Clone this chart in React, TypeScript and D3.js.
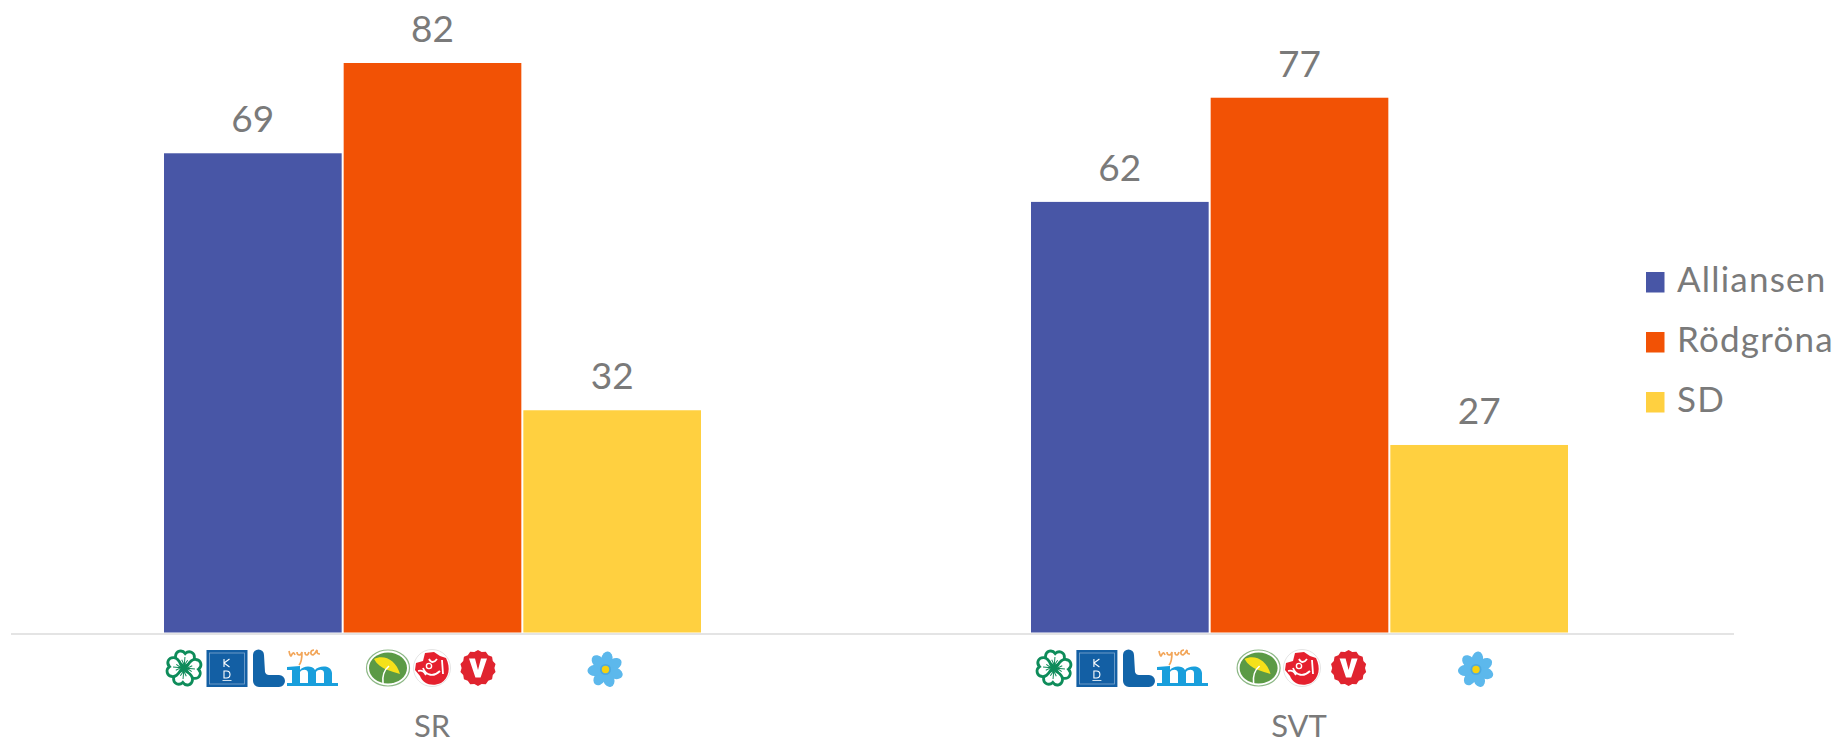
import React from "react";
import * as d3 from "d3";

const categories = ["SR", "SVT"];
const seriesNames = ["Alliansen", "Rödgröna", "SD"];
const alliansen = [69, 62];
const rodgrona = [82, 77];
const sd = [32, 27];
const seriesValues = [alliansen, rodgrona, sd];
const colors = ["#4856A6", "#F25205", "#FFD040"];

const W = 1842, H = 740;
const FONT = "Lato, 'Open Sans', sans-serif";
const TEXT = "#7A7A7A";

const x0 = d3.scaleBand<string>().domain(categories).range([0, 1734]);
const x1 = d3.scaleBand<string>().domain(seriesNames).range([-269.5, 269.5]);
const y = d3.scaleLinear().domain([0, 82]).range([632.5, 63]);

type P = { x: number; y: number };
const tf = ({ x, y }: P) => `translate(${x},${y})`;

function Clover(p: P) {
  const leaf = "M0,-1.5 C-2,-4 -9.5,-4.5 -9.5,-11 C-9.5,-16.5 -3.5,-18.5 0,-14.5 C3.5,-18.5 9.5,-16.5 9.5,-11 C9.5,-4.5 2,-4 0,-1.5 Z";
  return (
    <g transform={tf(p)} fill="#fff" stroke="#0E8C5A">
      {[0, 90, 180, 270].map((r) => (
        <g key={r} transform={`rotate(${r + 5})`}>
          <path d={leaf} strokeWidth={2.8} />
          <path d="M0,-3 L0,-11 M-3,-8 L0,-3 L3,-8" strokeWidth={1} fill="none" />
        </g>
      ))}
    </g>
  );
}
function KD(p: P) {
  return (
    <g transform={tf(p)}>
      <rect x={0} y={0} width={41} height={37} fill="#135FA4" />
      <rect x={3} y={3} width={35} height={31} fill="none" stroke="#7FA9D0" strokeWidth={0.8} />
      <path
        d="M17.5,9 V17 M23,9 L17.5,13 L23,17 M17.5,21 V28 H20 Q23.5,28 23.5,24.5 Q23.5,21 20,21 Z"
        fill="none"
        stroke="#fff"
        strokeWidth={1.1}
      />
      <rect x={16} y={30} width={9} height={0.8} fill="#fff" />
    </g>
  );
}
function LLogo(p: P) {
  return (
    <path
      transform={tf(p)}
      fill="#1264A8"
      d="M0,5 a5.5,5.5 0 0 1 11,0 L12,22 q1,3 4,3 L26,25 a6,6 0 0 1 0,12 L6,37 a6,6 0 0 1 -6,-6 Z"
    />
  );
}
function MLogo(p: P) {
  return (
    <g transform={tf(p)}>
      <path
        fill="#199FDC"
        d="M0,9 L13,8 L13,12 C16,8 25,7 28,12 C31,8 44,6 45,15 L45,25 L51,25 L51,28 L32,28 L32,25 L37,25 L37,15 C37,11 31,11 29,14 L29,25 L34,25 L34,28 L16,28 L16,25 L21,25 L21,15 C21,11 15,11 13,14 L13,25 L18,25 L18,28 L0,28 L0,25 L5,25 L5,12 L0,12 Z"
      />
      <path
        fill="none"
        stroke="#F2A65A"
        strokeWidth={1.7}
        d="M2,-7 C3,-3 3,-2 4,-2 C6,-6 7,-6 8,-3 M10,-6 C10,-2 14,-2 15,-6 C15,-1 14,5 12,7 M18,-6 C18,-2 21,-2 22,-6 M27,-8 C23,-8 23,-3 26,-3 C28,-4 29,-6 30,-8 C30,-5 30,-4 33,-4"
      />
    </g>
  );
}
function MP(p: P) {
  return (
    <g transform={tf(p)}>
      <ellipse rx={21.5} ry={18} fill="#fff" stroke="#8DB886" strokeWidth={1.2} />
      <ellipse rx={19} ry={15.5} fill="#5B9A45" />
      <path d="M-14,-9 C-4,-14 8,-8 12,6 C4,3 -8,2 -14,-9 Z" fill="#F5E11A" />
      <path d="M-5,16 C-6,8 -4,2 1,-2" fill="none" stroke="#fff" strokeWidth={1.6} />
    </g>
  );
}
function Rose(p: P) {
  return (
    <g transform={tf(p)}>
      <circle r={18.5} fill="#fff" stroke="#DDD" strokeWidth={0.8} />
      <path d="M-16,-5 L-9,-7 L-7,-15 L2,-16 L8,-12 L14,-10 C19,0 17,10 9,15 C0,19 -9,16 -12,8 L-17,2 Z" fill="#E5202E" />
      <path d="M-9,0 C-6,8 2,9 8,3 M-3,-9 C-1,-5 2,-5 5,-9 M10,-8 L11,6 M-14,3 C-10,2 -8,3 -6,7" fill="none" stroke="#fff" strokeWidth={1.8} />
      <circle cx={-3} cy={-2} r={2.6} fill="none" stroke="#fff" strokeWidth={1.4} />
    </g>
  );
}
function VLogo(p: P) {
  const pts = d3.range(0, 28).map((i) => {
    const a = (i / 28) * Math.PI * 2;
    const r = i % 2 ? 18 : 16.4;
    return [Math.cos(a) * r, Math.sin(a) * r];
  });
  return (
    <g transform={tf(p)}>
      <path d={`M${pts.map((q) => q.join(",")).join("L")}Z`} fill="#E0242F" />
      <path d="M-9,-9.5 L-3,-9.5 L0,2 L3,-9.5 L9,-9.5 L2.6,9.5 L-2.6,9.5 Z" fill="#fff" />
    </g>
  );
}
function Flower(p: P) {
  const angles = [0, 51.4, 102.8, 154.3, 205.7, 257.1, 308.5];
  return (
    <g transform={tf(p)}>
      {angles.map((a) => (
        <ellipse key={a} cx={0} cy={-10.5} rx={5.6} ry={7.6} fill="#5CB8EC" transform={`rotate(${a + 8})`} />
      ))}
      <circle r={5.5} fill="#4CA8E0" />
      <circle r={3.7} fill="#F5D20F" />
    </g>
  );
}

const logoX = [
  { clover: 184, kd: 206.5, l: 253, m: 287, mp: 388, s: 432, v: 478, sd: 605.5 },
  { clover: 1054, kd: 1076.4, l: 1123, m: 1157, mp: 1258.6, s: 1302, v: 1348.6, sd: 1476 },
];

function Logos({ i }: { i: number }) {
  const g = logoX[i];
  return (
    <g>
      <Clover x={g.clover} y={668} />
      <KD x={g.kd} y={650} />
      <LLogo x={g.l} y={650} />
      <MLogo x={g.m} y={658} />
      <MP x={g.mp} y={668} />
      <Rose x={g.s} y={668} />
      <VLogo x={g.v} y={668} />
      <Flower x={g.sd} y={669.5} />
    </g>
  );
}

export default function App() {
  return (
    <svg width={W} height={H} style={{ position: "absolute", left: 0, top: 0, display: "block" }}>
      <rect width={W} height={H} fill="#fff" />
      {categories.map((c, ci) => {
        const cx = x0(c)! + x0.bandwidth() / 2;
        return (
          <g key={c}>
            {seriesNames.map((s, si) => {
              const v = seriesValues[si][ci];
              const bx = cx + x1(s)!;
              return (
                <g key={s}>
                  <rect x={bx} y={y(v)} width={x1.bandwidth() - 2} height={y(0) - y(v)} fill={colors[si]} />
                  <text x={bx + x1.bandwidth() / 2 - 1} y={y(v) - 21} textAnchor="middle" fontFamily={FONT} fontSize={37} fill={TEXT}>
                    {v}
                  </text>
                </g>
              );
            })}
            <Logos i={ci} />
            <text x={cx - 1.5} y={737} textAnchor="middle" fontFamily={FONT} fontSize={31} fill={TEXT}>
              {c}
            </text>
          </g>
        );
      })}
      <line x1={11} x2={1734} y1={634} y2={634} stroke="#E4E4E4" strokeWidth={2} />
      {seriesNames.map((s, i) => {
        const ly = 292 + i * 60;
        return (
          <g key={s}>
            <rect x={1646} y={ly - 20} width={18.5} height={20.5} fill={colors[i]} />
            <text x={1677} y={ly} fontFamily={FONT} fontSize={35} letterSpacing={1.2} fill={TEXT}>
              {s}
            </text>
          </g>
        );
      })}
    </svg>
  );
}
